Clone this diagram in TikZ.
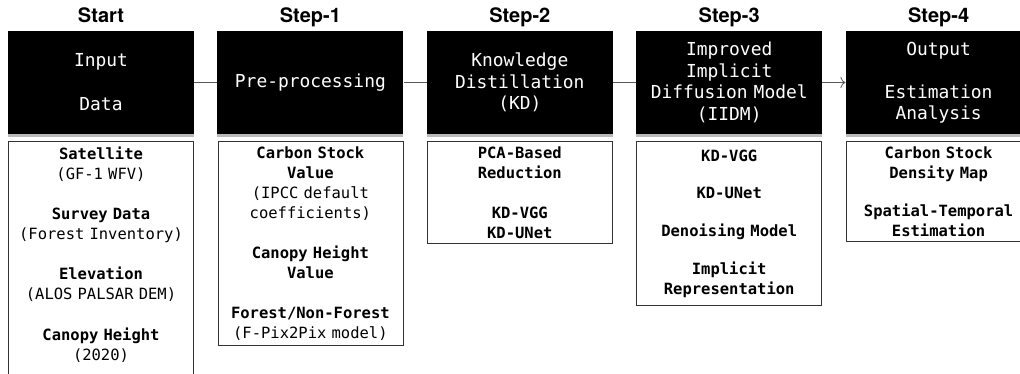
\documentclass[tikz,border=0pt]{standalone}
\usepackage{fontspec}
\setmainfont{TeX Gyre Heros}
\setmonofont{DejaVu Sans Mono}
\usetikzlibrary{positioning}
\usetikzlibrary{shadows}
\usetikzlibrary{arrows.meta}

\begin{document}
\begin{tikzpicture}
	\tikzstyle{stage}=[rectangle,fill=black,text=white,minimum width=186pt,minimum height=103pt,text width=180pt,align=center,inner sep=0pt,font=\ttfamily\fontsize{17.9}{21.5}\selectfont,drop shadow={shadow xshift=0pt,shadow yshift=-3pt,fill=black!45,opacity=0.6}]
	\tikzstyle{list}=[rectangle,draw=black!80,line width=0.8pt,minimum width=185pt,text width=180pt,align=center,inner xsep=2pt,inner ysep=5pt,anchor=north,font=\ttfamily\bfseries\fontsize{15.5}{20}\selectfont]
	\tikzstyle{title}=[font=\bfseries\fontsize{20}{24}\selectfont,text height=14pt,text depth=0pt,inner sep=0pt]
	\tikzstyle{link}=[draw=black!65,line width=0.8pt]
	
	\useasboundingbox (0,0) rectangle (1020pt,-373pt);
	
	% top row
	\node[stage] (start) at (101pt,-82.5pt) {Input\\[22.5pt]Data};
	\node[stage,right=23pt of start] (prep) {Pre-processing};
	\node[stage,right=23pt of prep] (kd) {Knowledge\\Distillation\\(KD)};
	\node[stage,right=23pt of kd] (iidm) {Improved\\Implicit\\Diffusion Model\\(IIDM)};
	\node[stage,right=23pt of iidm] (output) {Output\\[21.5pt]Estimation\\Analysis};
	
	\node[title,above=8pt of start] (startTitle) {Start};
	\node[title,above=8pt of prep] (prepTitle) {Step-1};
	\node[title,above=8pt of kd] (kdTitle) {Step-2};
	\node[title,above=8pt of iidm] (iidmTitle) {Step-3};
	\node[title,above=8pt of output] (outputTitle) {Step-4};
	
	% lists
	\node[list,below=7pt of start.south,anchor=north] (startList) {Satellite\\\textmd{(GF-1 WFV)}\\[20pt]Survey Data\\\textmd{(Forest Inventory)}\\[20pt]Elevation\\\textmd{(ALOS PALSAR DEM)}\\[21.5pt]Canopy Height\\\textmd{(2020)}\\[20pt]~};
	\node[list,below=7pt of prep.south,anchor=north] (prepList) {Carbon Stock\\Value\\\textmd{(IPCC default}\\\textmd{coefficients)}\\[20pt]Canopy Height\\Value\\[20pt]Forest/Non-Forest\\\textmd{(F-Pix2Pix model)}};
	\node[list,below=7pt of kd.south,anchor=north] (kdList) {PCA-Based\\Reduction\\[20pt]KD-VGG\\KD-UNet};
	\node[list,below=7pt of iidm.south,anchor=north,inner ysep=8pt] (iidmList) {KD-VGG\\[17.7pt]KD-UNet\\[17.7pt]Denoising Model\\[17.7pt]Implicit\\Representation};
	\node[list,below=7pt of output.south,anchor=north] (outputList) {Carbon Stock\\Density Map\\[18pt]Spatial-Temporal\\Estimation};
	
	% connectors
	\draw[link] (start.east) -- (prep.west);
	\draw[link] (prep.east) -- (kd.west);
	\draw[link] (kd.east) -- (iidm.west);
	\draw[link,-{To[length=5pt,width=11pt]}] (iidm.east) -- (output.west);
\end{tikzpicture}
\end{document}
